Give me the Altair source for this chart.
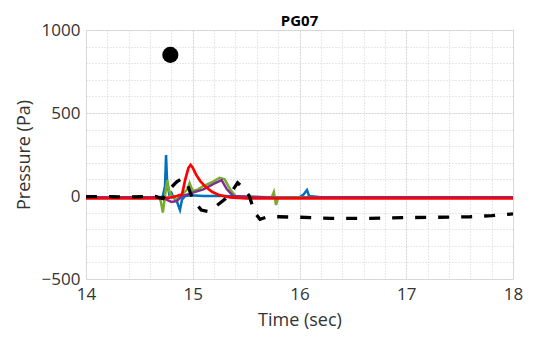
import altair as alt
import pandas as pd
import numpy as np

# ---- data ----
black_t = [14.0, 14.2, 14.4, 14.55, 14.65, 14.72, 14.78, 14.85, 14.9, 14.95, 15.0, 15.08, 15.15, 15.22, 15.3, 15.37, 15.42, 15.47, 15.53, 15.58, 15.63, 15.7, 15.8, 16.0, 16.3, 16.6, 17.0, 17.3, 17.6, 17.8, 18.0]
black_p = [-4, -4, -6, -4, -2, -15, 40, 85, 105, 70, -20, -85, -95, -60, -20, 30, 80, 50, 0, -100, -140, -125, -125, -128, -135, -135, -130, -128, -125, -118, -108]

blue_t = [14.0, 14.7, 14.72, 14.74, 14.75, 14.76, 14.78, 14.8, 14.82, 14.85, 14.88, 14.9, 14.93, 14.98, 15.1, 15.3, 15.5, 15.7, 15.77, 16.0, 16.04, 16.07, 16.09, 16.2, 18.0]
blue_p = [-8, -8, 0, 60, 247, 80, 10, 20, -10, -30, -84, -20, 0, 5, 0, 0, -5, -8, -10, -8, 10, 36, 0, -8, -8]

green_t = [14.0, 14.68, 14.7, 14.72, 14.74, 14.76, 14.78, 14.8, 14.85, 14.9, 14.95, 14.97, 15.0, 15.05, 15.1, 15.2, 15.25, 15.3, 15.35, 15.4, 15.5, 15.74, 15.76, 15.78, 15.8, 16.0, 18.0]
green_p = [-8, -8, -30, -100, 0, 96, 30, 0, -20, 10, 40, 78, 30, 40, 60, 90, 110, 100, 40, 0, -5, -8, 24, -54, -10, -8, -8]

purple_t = [14.0, 14.7, 14.75, 14.8, 14.85, 14.9, 15.0, 15.1, 15.2, 15.27, 15.32, 15.38, 15.5, 15.8, 16.0, 16.2, 18.0]
purple_p = [-8, -8, -20, -36, -30, 0, 20, 40, 75, 96, 40, 0, -5, -10, -10, -8, -8]

red_t = [14.0, 14.7, 14.8, 14.85, 14.9, 14.93, 14.96, 14.98, 15.0, 15.03, 15.07, 15.12, 15.18, 15.25, 15.35, 15.5, 18.0]
red_p = [-14, -14, -8, 0, 10, 100, 170, 187, 170, 130, 90, 55, 25, 5, -8, -14, -14]

marker_t = [14.79]
marker_p = [850]

series = [
    ("blue", blue_t, blue_p, "#0072BD", None, 2.5),
    ("green", green_t, green_p, "#77AC30", None, 2.5),
    ("purple", purple_t, purple_p, "#7E2F8E", None, 2.5),
    ("red", red_t, red_p, "#FF0000", None, 2.7),
    ("black", black_t, black_p, "#000000", [11, 12], 3.3),
]

FONT = "Open Sans"
xvals = [round(14 + 0.2 * i, 1) for i in range(21)]
yvals = list(range(-500, 1001, 100))

xmaj = "abs(datum.value - round(datum.value)) < 0.001"
ymaj = "datum.value % 500 == 0"

x_axis = alt.Axis(
    values=xvals, title="Time (sec)", ticks=False, domain=False,
    labelExpr=xmaj + " ? format(datum.value, 'd') : ''",
    labelOverlap=False, labelFlush=False, labelFontSize=17, labelFont=FONT, labelColor="#333333",
    labelPadding=7, titleFontSize=18, titleFont=FONT, titleColor="#333333",
    titleFontWeight="normal", titlePadding=9,
    gridColor={"condition": {"test": xmaj, "value": "#d4d4d4"}, "value": "#d0d0d0"},
    gridDash={"condition": {"test": xmaj, "value": [2, 1]}, "value": [1, 2]},
)
y_axis = alt.Axis(
    values=yvals, title="Pressure (Pa)", ticks=False, domain=False,
    labelExpr=ymaj + " ? format(datum.value, 'd') : ''",
    labelOverlap=False, labelFlush=False, labelFontSize=17, labelFont=FONT, labelColor="#333333",
    labelPadding=6, titleFontSize=18, titleFont=FONT, titleColor="#333333",
    titleFontWeight="normal", titlePadding=8,
    gridColor={"condition": {"test": ymaj, "value": "#d4d4d4"}, "value": "#d0d0d0"},
    gridDash={"condition": {"test": ymaj, "value": [2, 1]}, "value": [1, 2]},
)

xs = alt.Scale(domain=[14, 18], nice=False, zero=False)
ys = alt.Scale(domain=[-500, 1000], nice=False)

layers = []
for i, (name, t, p, col, dash, w) in enumerate(series):
    df = pd.DataFrame({"t": t, "p": p})
    kw = dict(color=col, strokeWidth=w, clip=True)
    if dash:
        kw["strokeDash"] = dash
    ch = alt.Chart(df).mark_line(**kw).encode(
        x=alt.X("t:Q", scale=xs, axis=x_axis),
        y=alt.Y("p:Q", scale=ys, axis=y_axis),
    )
    layers.append(ch)

mdf = pd.DataFrame({"t": marker_t, "p": marker_p})
layers.append(
    alt.Chart(mdf).mark_point(filled=True, color="black", size=260, opacity=1).encode(
        x=alt.X("t:Q", scale=xs, axis=x_axis), y=alt.Y("p:Q", scale=ys, axis=y_axis)
    )
)

chart = alt.layer(*layers).properties(
    width=427, height=249,
    title=alt.Title("PG07", fontSize=15, font=FONT, fontWeight="bold", color="#000000", offset=-8),
    padding={"left": 86, "top": 30, "right": 34, "bottom": 58},
    autosize=alt.AutoSizeParams(type="none"),
).configure_view(stroke="#999999", strokeWidth=1.2).configure(background="white")

chart.save("out.html", embed_options={"renderer": "svg", "actions": False})
